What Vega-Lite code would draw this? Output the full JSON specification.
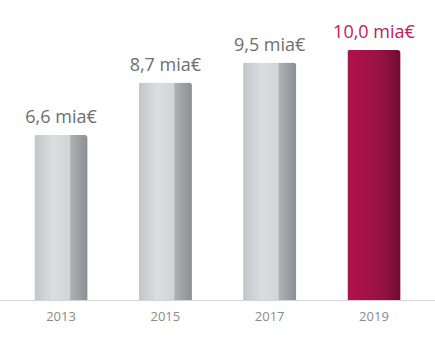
{
  "$schema": "https://vega.github.io/schema/vega-lite/v6.json",
  "width": 435,
  "height": 300,
  "padding": 0,
  "autosize": {"type": "pad"},
  "background": "white",
  "config": {"view": {"stroke": null}},
  "data": {
    "values": [
      {"year": "2013", "value": 6.6, "label": "6,6 mia€", "highlight": "no"},
      {"year": "2015", "value": 8.7, "label": "8,7 mia€", "highlight": "no"},
      {"year": "2017", "value": 9.5, "label": "9,5 mia€", "highlight": "no"},
      {"year": "2019", "value": 10.0, "label": "10,0 mia€", "highlight": "yes"}
    ]
  },
  "encoding": {
    "x": {
      "field": "year",
      "type": "nominal",
      "sort": null,
      "scale": {"paddingInner": 0.49, "paddingOuter": 0.33},
      "axis": {
        "title": null,
        "labelAngle": 0,
        "ticks": false,
        "domain": true,
        "domainColor": "#d4d4d4",
        "domainWidth": 1,
        "labelFont": "Open Sans",
        "labelFontSize": 13,
        "labelColor": "#8a8a8a",
        "labelPadding": 10
      }
    },
    "y": {
      "field": "value",
      "type": "quantitative",
      "scale": {"domain": [0, 12]},
      "axis": null
    }
  },
  "layer": [
    {
      "transform": [{"filter": "datum.highlight == 'no'"}],
      "mark": {
        "type": "bar",
        "cornerRadiusTopLeft": 2,
        "cornerRadiusTopRight": 3,
        "color": {
          "gradient": "linear",
          "x1": 0, "y1": 0, "x2": 1, "y2": 0,
          "stops": [
            {"offset": 0, "color": "#c4c5c9"},
            {"offset": 0.35, "color": "#dcdde0"},
            {"offset": 0.66, "color": "#d3d4d7"},
            {"offset": 0.68, "color": "#aeb0b4"},
            {"offset": 1, "color": "#8c8e93"}
          ]
        }
      }
    },
    {
      "transform": [{"filter": "datum.highlight == 'yes'"}],
      "mark": {
        "type": "bar",
        "cornerRadiusTopLeft": 2,
        "cornerRadiusTopRight": 3,
        "color": {
          "gradient": "linear",
          "x1": 0, "y1": 0, "x2": 1, "y2": 0,
          "stops": [
            {"offset": 0, "color": "#b3104d"},
            {"offset": 0.5, "color": "#9e1245"},
            {"offset": 0.75, "color": "#8c103d"},
            {"offset": 1, "color": "#6e0c30"}
          ]
        }
      }
    },
    {
      "mark": {
        "type": "text",
        "baseline": "bottom",
        "dy": -8,
        "font": "Open Sans",
        "fontSize": 18
      },
      "encoding": {
        "text": {"field": "label"},
        "color": {
          "field": "highlight",
          "type": "nominal",
          "scale": {"domain": ["no", "yes"], "range": ["#6e6e6e", "#c2185b"]},
          "legend": null
        }
      }
    }
  ]
}
